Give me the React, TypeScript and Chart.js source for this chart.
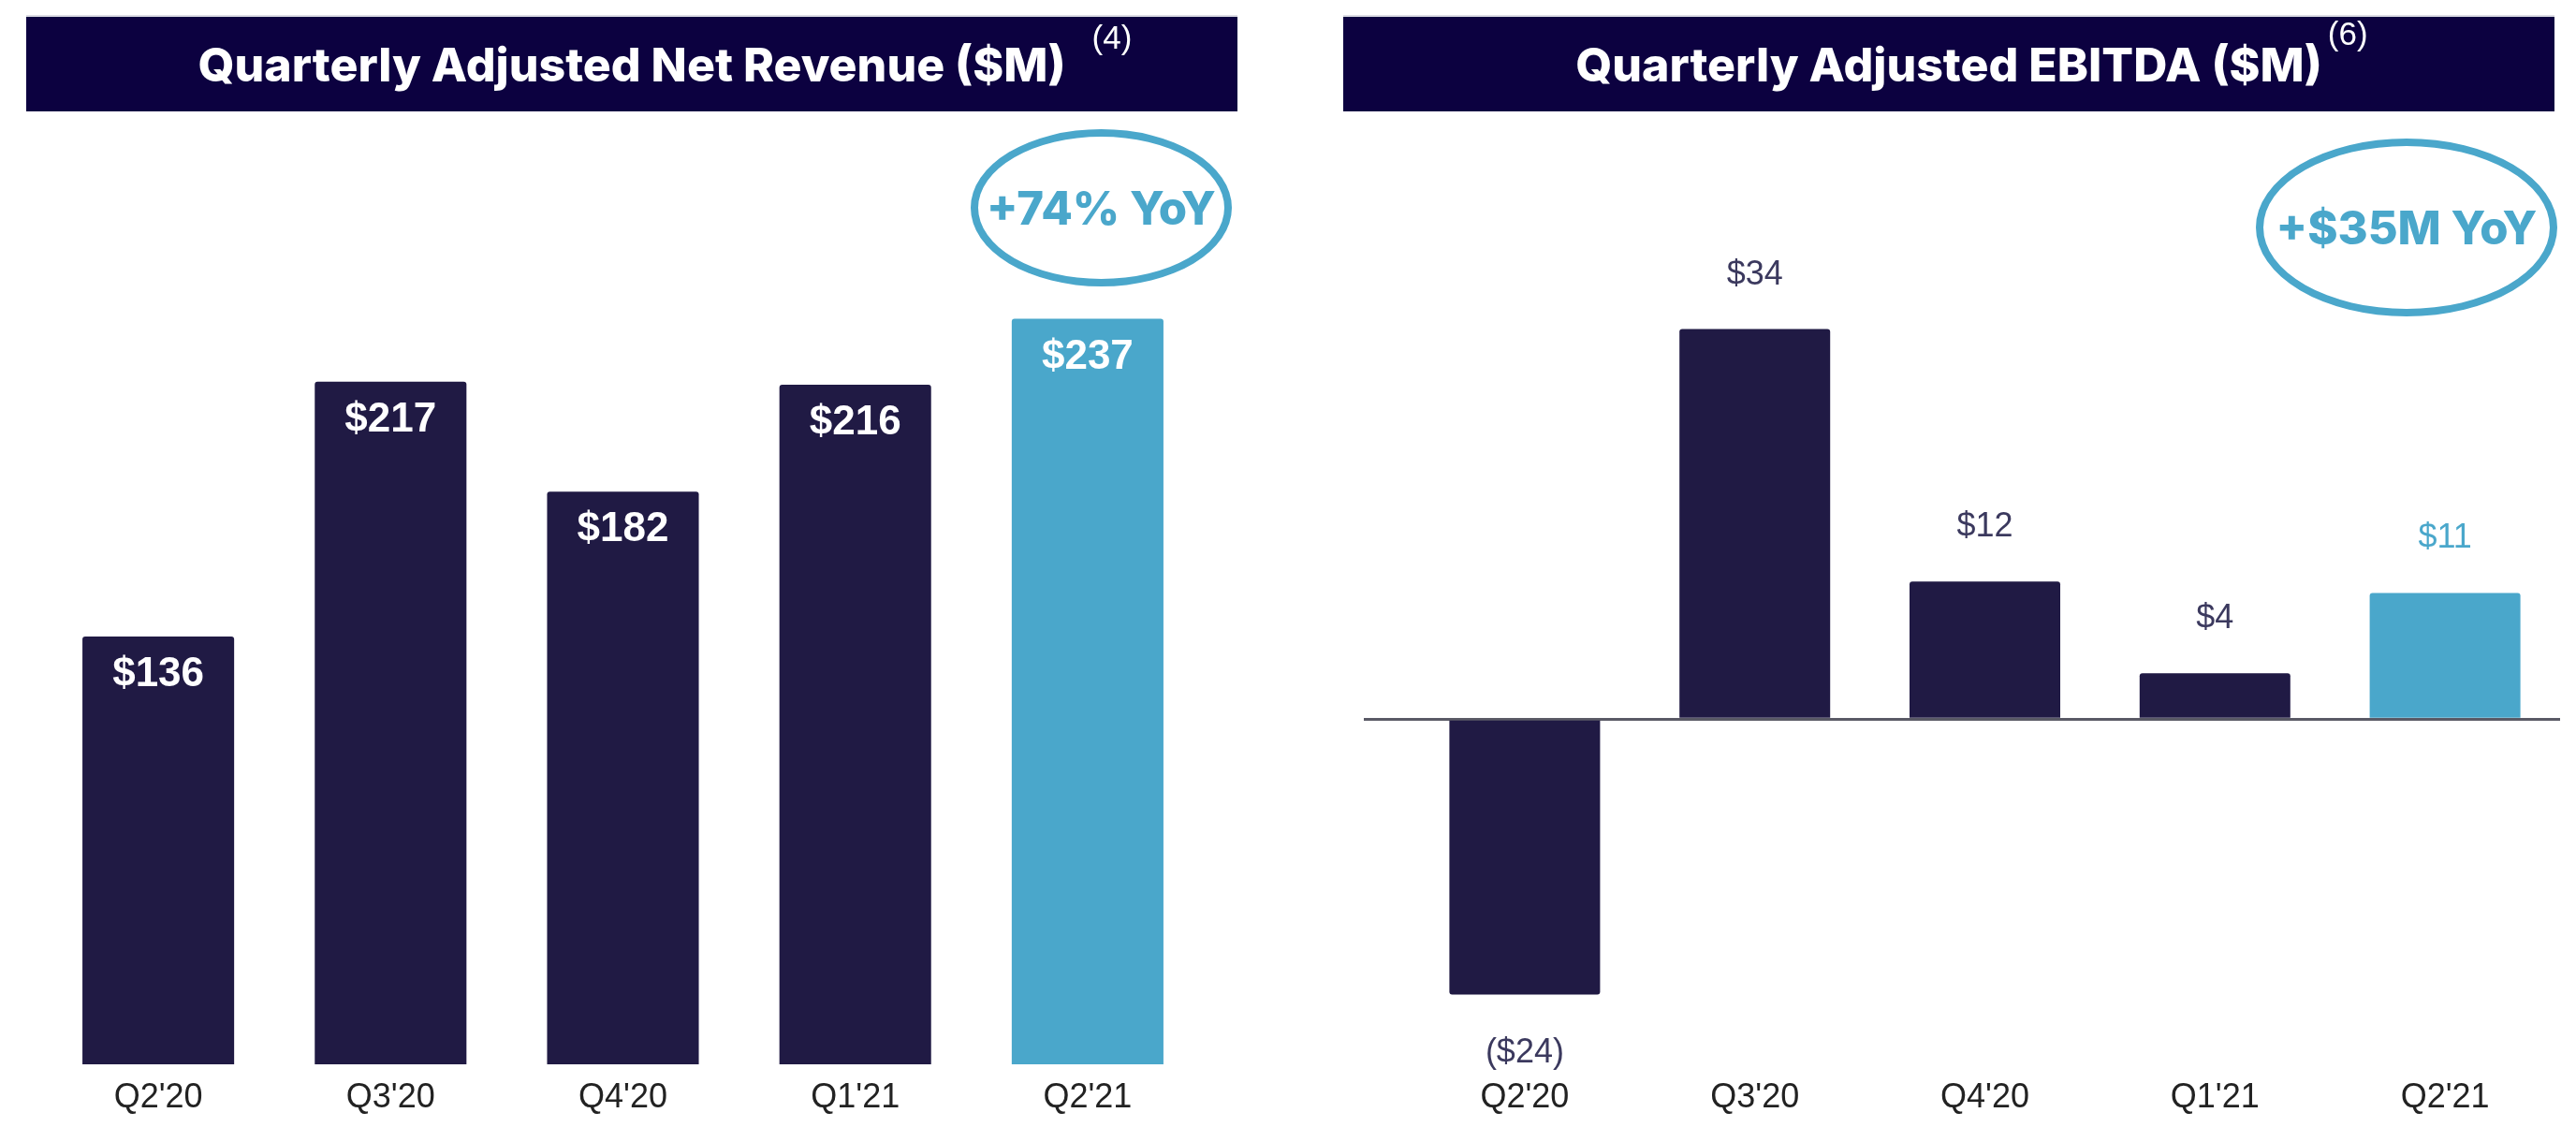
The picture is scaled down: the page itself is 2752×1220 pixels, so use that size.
import React, { useEffect, useRef } from "react";
import { Chart, registerables } from "chart.js";

Chart.register(...registerables);

// ---------- data ----------
const categories = ["Q2'20", "Q3'20", "Q4'20", "Q1'21", "Q2'21"];
const revenueValues = [136, 217, 182, 216, 237];
const ebitdaValues = [-24, 34, 12, 4, 11];

const revenueTitle = "Quarterly Adjusted Net Revenue ($M)";
const ebitdaTitle = "Quarterly Adjusted EBITDA ($M)";
const revenueNote = "(4)";
const ebitdaNote = "(6)";
const revenueCallout = "+74% YoY";
const ebitdaCallout = "+$35M YoY";

const revenueRange = [0, 280];
const ebitdaRange = [-30, 40];

// ---------- styles ----------
const NAVY = "#201a44";
const BLUE = "#4aa7cb";
const HEADER = "#0c0140";
const ARIAL = "Arial, 'Liberation Sans', sans-serif";
const HEAD_FONT = "Inter, 'Open Sans', sans-serif";

const colorsFor = (vals: number[]) => vals.map((_, i) => (i === vals.length - 1 ? BLUE : NAVY));

function RevenueChart() {
  const ref = useRef<HTMLCanvasElement | null>(null);
  useEffect(() => {
    if (!ref.current) return;
    const labelPlugin = {
      id: "revLabels",
      afterDatasetsDraw(chart: any) {
        const ctx = chart.ctx;
        const meta = chart.getDatasetMeta(0);
        ctx.save();
        ctx.font = `bold 44px ${ARIAL}`;
        ctx.fillStyle = "#ffffff";
        ctx.textAlign = "center";
        ctx.textBaseline = "alphabetic";
        meta.data.forEach((bar: any, i: number) => {
          ctx.fillText(`$${revenueValues[i]}`, bar.x, bar.y + 53);
        });
        ctx.restore();
      },
    };
    const chart = new Chart(ref.current, {
      type: "bar",
      data: {
        labels: categories,
        datasets: [
          {
            data: revenueValues,
            backgroundColor: colorsFor(revenueValues),
            borderRadius: 3,
            borderSkipped: "start",
            categoryPercentage: 1,
            barPercentage: 0.653,
          },
        ],
      },
      options: {
        responsive: false,
        animation: false,
        devicePixelRatio: 1,
        layout: { padding: { left: 45, right: 90, top: 196, bottom: 0 } },
        plugins: { legend: { display: false }, tooltip: { enabled: false }, title: { display: false } },
        scales: {
          x: {
            grid: { display: false, drawTicks: false },
            border: { display: false },
            ticks: { color: "#222222", font: { family: ARIAL, size: 36 }, padding: 14 },
            afterFit: (s: any) => {
              s.height = 83;
            },
          },
          y: { display: false, min: revenueRange[0], max: revenueRange[1] },
        },
      } as any,
      plugins: [labelPlugin],
    });
    return () => chart.destroy();
  }, []);
  return (
    <canvas
      ref={ref}
      width={1376}
      height={1220}
      style={{ position: "absolute", left: 0, top: 0, width: 1376, height: 1220 }}
    />
  );
}

function EbitdaChart() {
  const ref = useRef<HTMLCanvasElement | null>(null);
  useEffect(() => {
    if (!ref.current) return;
    const labelPlugin = {
      id: "ebitdaLabels",
      afterDatasetsDraw(chart: any) {
        const ctx = chart.ctx;
        const meta = chart.getDatasetMeta(0);
        ctx.save();
        ctx.font = `36px ${ARIAL}`;
        ctx.textAlign = "center";
        ctx.textBaseline = "alphabetic";
        meta.data.forEach((bar: any, i: number) => {
          const v = ebitdaValues[i];
          ctx.fillStyle = i === ebitdaValues.length - 1 ? BLUE : "#3b395e";
          if (v < 0) {
            ctx.fillText(`($${-v})`, bar.x, bar.y + 73);
          } else {
            ctx.fillText(`$${v}`, bar.x, bar.y - 48);
          }
        });
        ctx.restore();
      },
    };
    const chart = new Chart(ref.current, {
      type: "bar",
      data: {
        labels: categories,
        datasets: [
          {
            data: ebitdaValues,
            backgroundColor: colorsFor(ebitdaValues),
            borderRadius: 3,
            borderSkipped: "start",
            categoryPercentage: 1,
            barPercentage: 0.655,
          },
        ],
      },
      options: {
        responsive: false,
        animation: false,
        devicePixelRatio: 1,
        layout: { padding: { left: 81, right: 17, top: 278, bottom: 0 } },
        plugins: { legend: { display: false }, tooltip: { enabled: false }, title: { display: false } },
        scales: {
          x: {
            grid: { display: false, drawTicks: false },
            border: { display: false },
            ticks: { color: "#222222", font: { family: ARIAL, size: 36 }, padding: 15 },
            afterFit: (s: any) => {
              s.height = 84;
            },
          },
          y: {
            min: ebitdaRange[0],
            max: ebitdaRange[1],
            ticks: { display: false, stepSize: 10 },
            border: { display: false },
            grid: {
              drawTicks: true,
              tickLength: 49,
              lineWidth: 3,
              color: (c: any) => (c.tick && c.tick.value === 0 ? "#5a5a66" : "rgba(0,0,0,0)"),
            },
            afterFit: (s: any) => {
              s.width = 49;
            },
          },
        },
      } as any,
      plugins: [labelPlugin],
    });
    return () => chart.destroy();
  }, []);
  return (
    <canvas
      ref={ref}
      width={1376}
      height={1220}
      style={{ position: "absolute", left: 1376, top: 0, width: 1376, height: 1220 }}
    />
  );
}

function Header(props: { left: number; width: number; text: string; note: string; gap: number; noteTop: number }) {
  return (
    <div
      style={{
        position: "absolute",
        left: props.left,
        top: 18,
        width: props.width,
        height: 101,
        background: HEADER,
        boxShadow: "0 -2px 0 #dcdce4",
        display: "flex",
        alignItems: "center",
        justifyContent: "center",
      }}
    >
      <span
        style={{
          position: "relative",
          fontFamily: HEAD_FONT,
          fontWeight: 800,
          fontSize: 50,
          lineHeight: "50px",
          color: "#ffffff",
          whiteSpace: "nowrap",
        }}
      >
        {props.text}
        <span
          style={{
            position: "absolute",
            left: `calc(100% + ${props.gap}px)`,
            top: props.noteTop,
            fontFamily: ARIAL,
            fontWeight: 400,
            fontSize: 35,
            lineHeight: "35px",
            color: "#ffffff",
          }}
        >
          {props.note}
        </span>
      </span>
    </div>
  );
}

function Callout(props: { left: number; top: number; width: number; height: number; text: string }) {
  return (
    <div
      style={{
        position: "absolute",
        left: props.left,
        top: props.top,
        width: props.width,
        height: props.height,
        boxSizing: "border-box",
        border: `8px solid ${BLUE}`,
        borderRadius: "50%",
        display: "flex",
        alignItems: "center",
        justifyContent: "center",
        fontFamily: HEAD_FONT,
        fontWeight: 800,
        fontSize: 49,
        color: BLUE,
        whiteSpace: "nowrap",
      }}
    >
      {props.text}
    </div>
  );
}

export default function App() {
  return (
    <div
      style={{
        position: "absolute",
        left: 0,
        top: 0,
        width: 2752,
        height: 1220,
        background: "#ffffff",
        overflow: "hidden",
      }}
    >
      <RevenueChart />
      <EbitdaChart />
      <Header left={28} width={1294} text={revenueTitle} note={revenueNote} gap={28} noteTop={-22} />
      <Header left={1435} width={1294} text={ebitdaTitle} note={ebitdaNote} gap={6} noteTop={-26} />
      <Callout left={1037} top={138} width={279} height={168} text={revenueCallout} />
      <Callout left={2410} top={148} width={322} height={190} text={ebitdaCallout} />
    </div>
  );
}
